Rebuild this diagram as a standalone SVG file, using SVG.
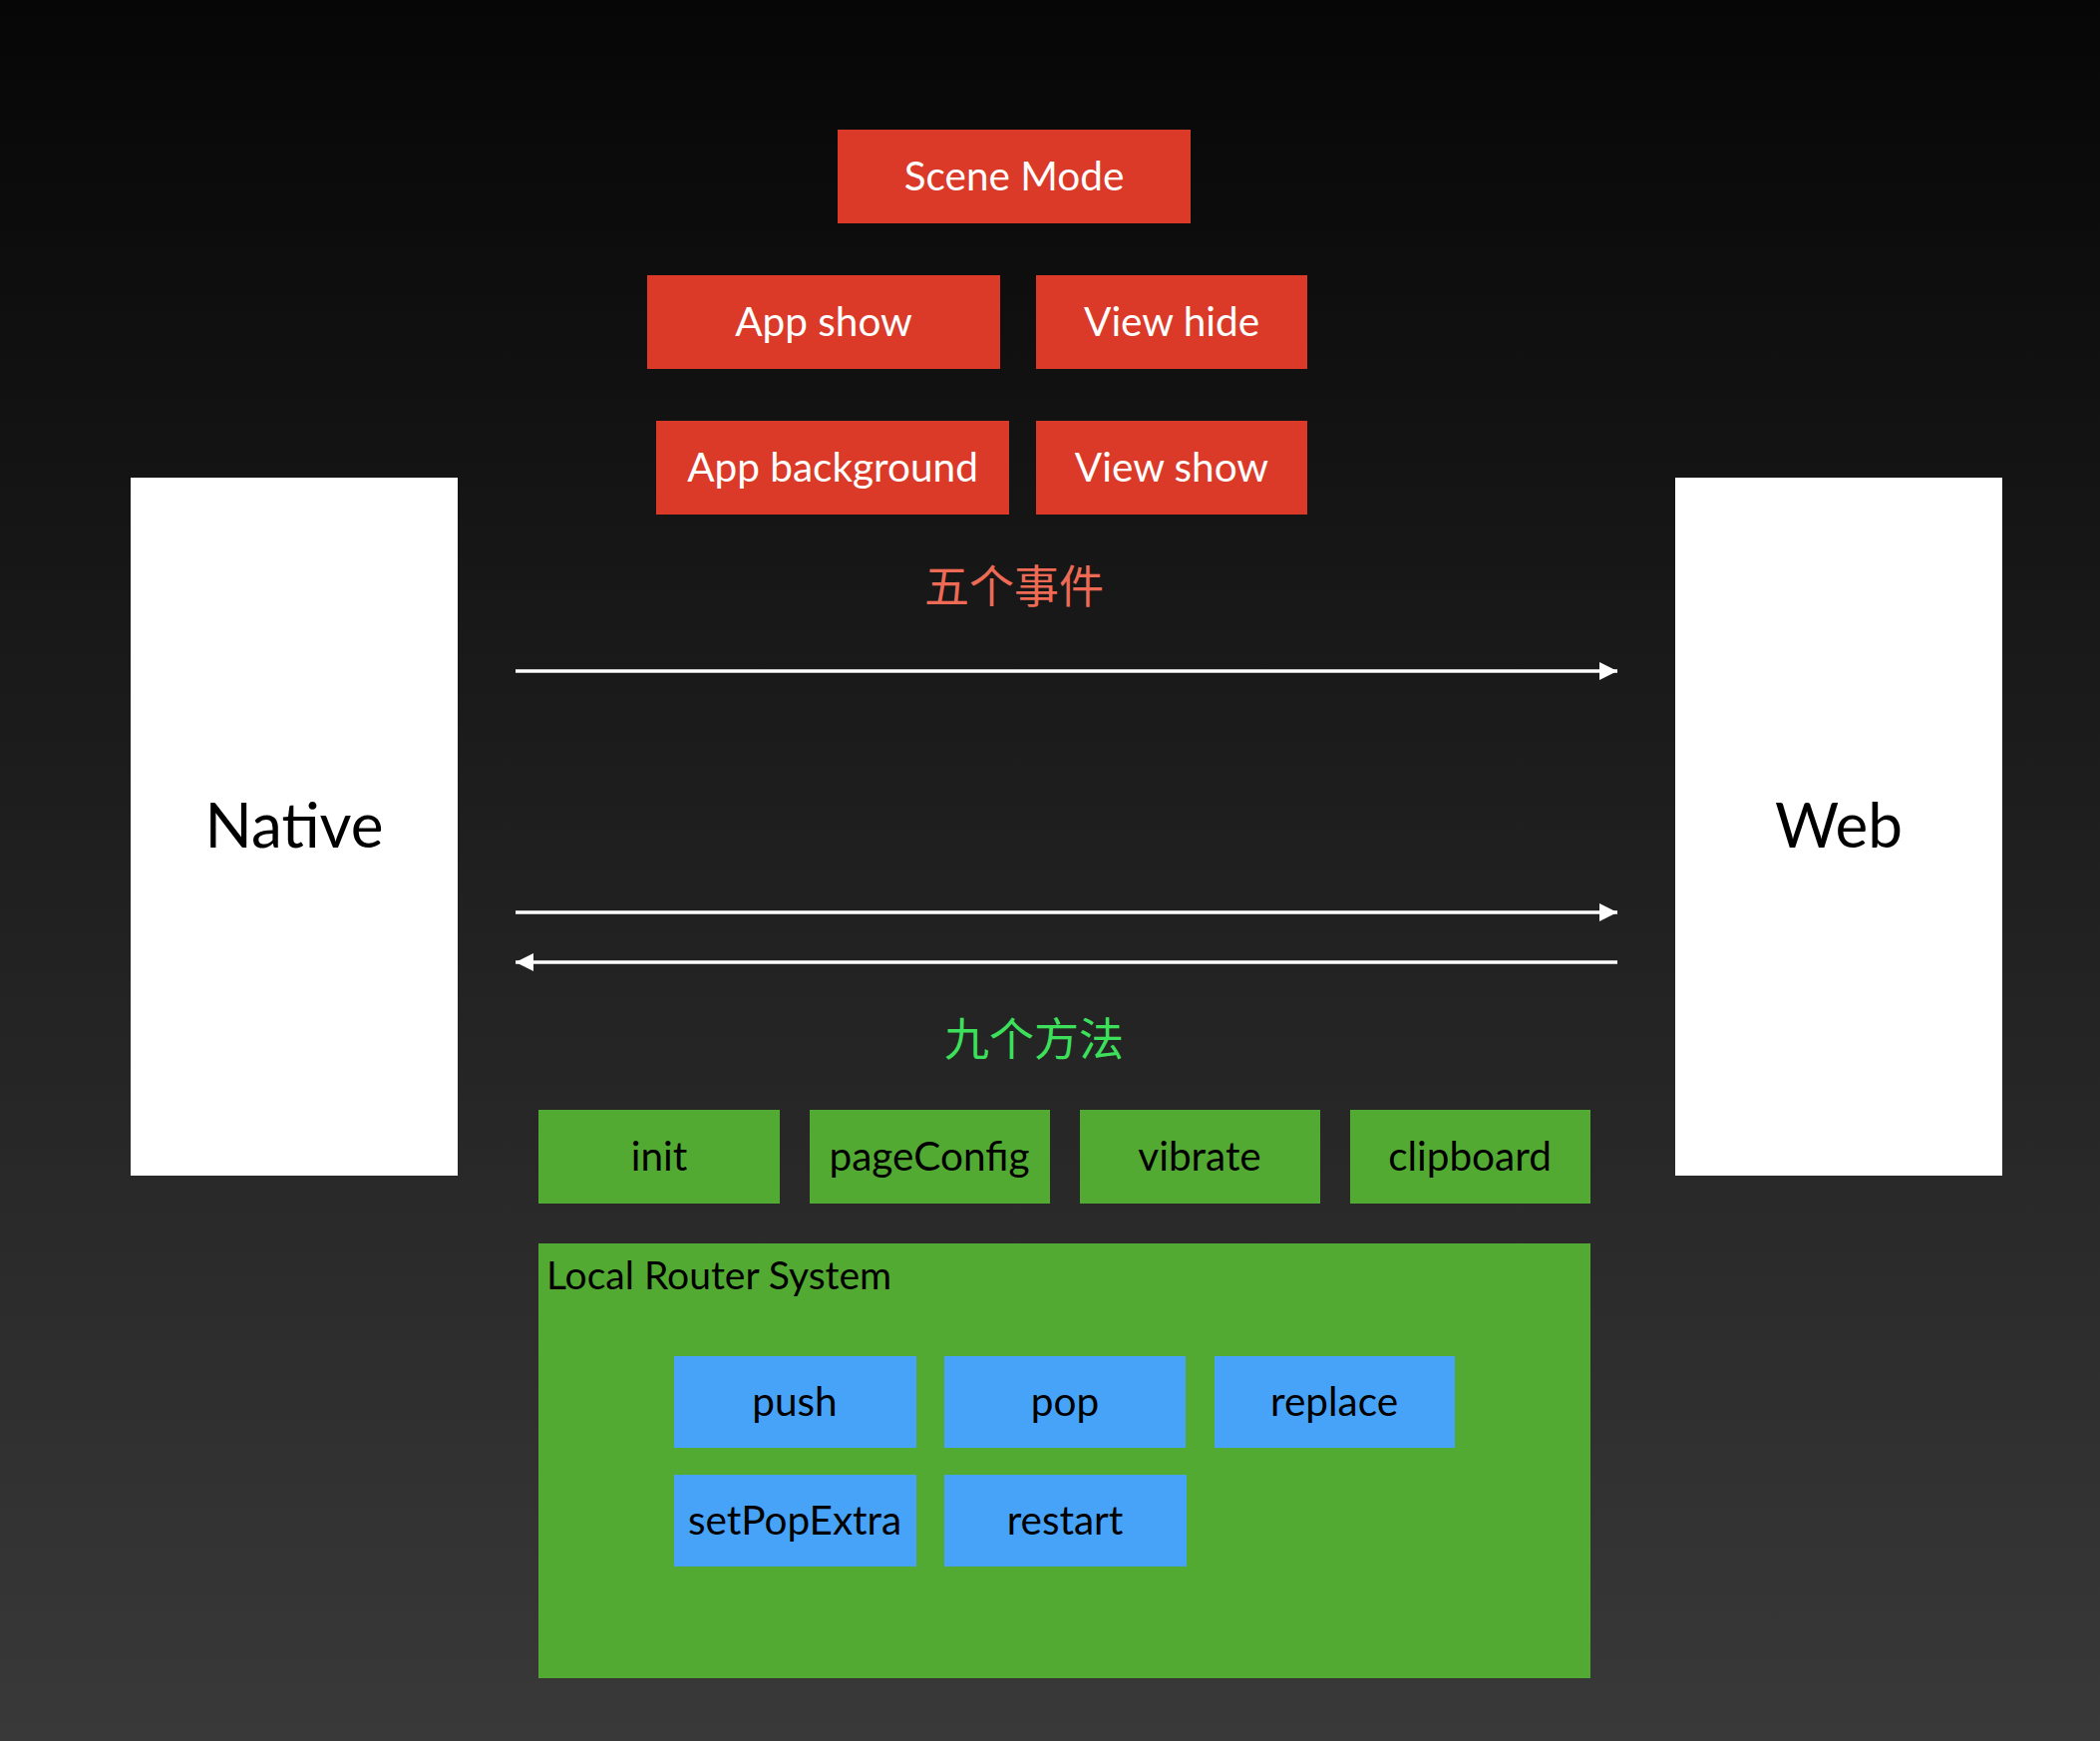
<svg xmlns="http://www.w3.org/2000/svg" width="2106" height="1746" viewBox="0 0 2106 1746">
<defs>
<linearGradient id="bg" x1="0" y1="0" x2="0" y2="1">
<stop offset="0" stop-color="#060606"/>
<stop offset="1" stop-color="#393939"/>
</linearGradient>
<marker id="ah" viewBox="0 0 18 18" refX="18" refY="9" markerWidth="18" markerHeight="18" markerUnits="userSpaceOnUse" orient="auto-start-reverse">
<path d="M0,0 L18,9 L0,18 Z" fill="#ffffff"/>
</marker>
<style>
text{font-family:Lato,"Noto Sans","Noto Sans CJK SC",sans-serif;text-anchor:middle}
.red{fill:#db3a28}
.grn{fill:#53aa33}
.blu{fill:#46a3f8}
.wt{fill:#ffffff;font-size:40.5px}
.bt{fill:#000000;font-size:40.5px}
.lbl{fill:#000000;font-size:39px}
.big{fill:#000000;font-size:62px}
.conn{stroke:#ffffff;stroke-width:3.5;fill:none}
.cjk{font-family:"Noto Sans CJK SC",sans-serif;font-size:45px}
</style>
</defs>
<rect x="0" y="0" width="2106" height="1746" fill="url(#bg)"/>

<g id="scene-mode"><rect class="red" x="840" y="130" width="354" height="94"/><text class="wt" x="1017" y="191">Scene Mode</text></g>
<g id="app-show"><rect class="red" x="649" y="276" width="354" height="94"/><text class="wt" x="826" y="337">App show</text></g>
<g id="view-hide"><rect class="red" x="1039" y="276" width="272" height="94"/><text class="wt" x="1175" y="337">View hide</text></g>
<g id="app-background"><rect class="red" x="658" y="422" width="354" height="94"/><text class="wt" x="835" y="483">App background</text></g>
<g id="view-show"><rect class="red" x="1039" y="422" width="272" height="94"/><text class="wt" x="1175" y="483">View show</text></g>

<g id="native"><rect x="131" y="479" width="328" height="700" fill="#ffffff"/><text class="big" x="295" y="850">Native</text></g>
<g id="web"><rect x="1680" y="479" width="328" height="700" fill="#ffffff"/><text class="big" x="1844" y="850">Web</text></g>

<g id="label-events"><text class="cjk" x="1017" y="605" fill="#ee6a55">五个事件</text></g>
<g id="label-methods"><text class="cjk" x="1037" y="1059" fill="#3de05a">九个方法</text></g>

<g id="connectors">
<line class="conn" x1="517" y1="673" x2="1622" y2="673" marker-end="url(#ah)"/>
<line class="conn" x1="517" y1="915" x2="1622" y2="915" marker-end="url(#ah)"/>
<line class="conn" x1="1622" y1="965" x2="517" y2="965" marker-end="url(#ah)"/>
</g>

<g id="init"><rect class="grn" x="540" y="1113" width="242" height="94"/><text class="bt" x="661" y="1174">init</text></g>
<g id="pageConfig"><rect class="grn" x="812" y="1113" width="241" height="94"/><text class="bt" x="932" y="1174">pageConfig</text></g>
<g id="vibrate"><rect class="grn" x="1083" y="1113" width="241" height="94"/><text class="bt" x="1203" y="1174">vibrate</text></g>
<g id="clipboard"><rect class="grn" x="1354" y="1113" width="241" height="94"/><text class="bt" x="1474" y="1174">clipboard</text></g>

<g id="local-router-system"><rect class="grn" x="540" y="1247" width="1055" height="436"/><text class="lbl" x="548" y="1293" style="text-anchor:start">Local Router System</text></g>
<g id="push"><rect class="blu" x="676" y="1360" width="243" height="92"/><text class="bt" x="797" y="1420">push</text></g>
<g id="pop"><rect class="blu" x="947" y="1360" width="242" height="92"/><text class="bt" x="1068" y="1420">pop</text></g>
<g id="replace"><rect class="blu" x="1218" y="1360" width="241" height="92"/><text class="bt" x="1338" y="1420">replace</text></g>
<g id="setPopExtra"><rect class="blu" x="676" y="1479" width="243" height="92"/><text class="bt" x="797" y="1539">setPopExtra</text></g>
<g id="restart"><rect class="blu" x="947" y="1479" width="243" height="92"/><text class="bt" x="1068" y="1539">restart</text></g>
</svg>
